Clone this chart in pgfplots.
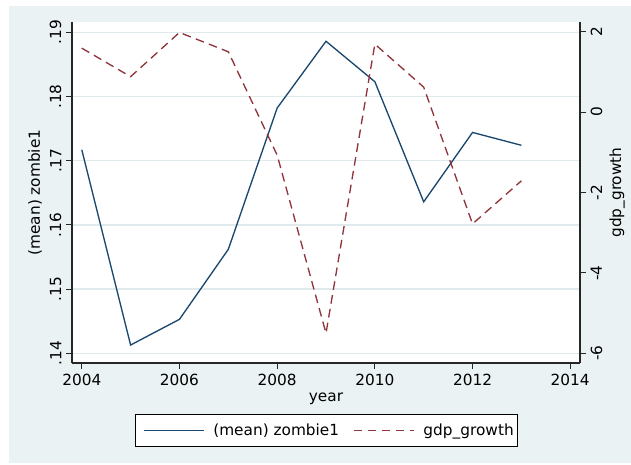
\documentclass[border=0pt]{standalone}
\usepackage{pgfplots}
\pgfplotsset{compat=1.18}
\usepackage{fontspec}
\setmainfont{DejaVu Sans}
\definecolor{bg}{RGB}{234,242,243}
\definecolor{gridc}{RGB}{224,234,237}
\definecolor{snavy}{RGB}{26,71,111}
\definecolor{smaroon}{RGB}{144,53,59}
\begin{document}
\begin{tikzpicture}
\fill[white] (0,0) rectangle (473.25pt,348pt);
\fill[bg] (6.75pt,0.75pt) rectangle (473.25pt,343.5pt);
\begin{axis}[
  at={(54pt,75.75pt)}, anchor=south west,
  scale only axis, width=381pt, height=255.75pt,
  xmin=2003.8, xmax=2014.2, ymin=0.1385, ymax=0.1916,
  axis x line*=bottom, axis y line*=left,
  axis line style={black!85, line width=0.8pt, -},
  tick align=outside, major tick length=4.5pt,
  tick style={black!85, line width=0.8pt},
  xtick={2004,2006,2008,2010,2012,2014},
  xticklabels={2004,2006,2008,2010,2012,2014},
  ytick={0.14,0.15,0.16,0.17,0.18,0.19},
  yticklabels={.14,.15,.16,.17,.18,.19},
  yticklabel style={rotate=90, anchor=south},
  ymajorgrids, grid style={gridc, line width=1.1pt},
  axis background/.style={fill=white},
  font=\fontsize{11.5}{13}\selectfont,
  xlabel={year}, ylabel={(mean) zombie1},
  xlabel style={at={(axis description cs:0.5,-0.104)}, anchor=center},
  ylabel style={at={(axis description cs:-0.0728,0.5)}, anchor=center},
  clip=false,
]
\addplot[snavy, line width=1pt] coordinates {
 (2004,0.1717) (2005,0.1413) (2006,0.1453) (2007,0.1562) (2008,0.1782)
 (2009,0.1886) (2010,0.1823) (2011,0.1636) (2012,0.1744) (2013,0.1724)};
\end{axis}
\begin{axis}[
  at={(54pt,75.75pt)}, anchor=south west,
  scale only axis, width=381pt, height=255.75pt,
  xmin=2003.8, xmax=2014.2, ymin=-6.24, ymax=2.24,
  axis x line=none, axis y line*=right,
  axis line style={black!85, line width=0.8pt, -},
  tick align=outside, major tick length=4.5pt,
  tick style={black!85, line width=0.8pt},
  ytick={-6,-4,-2,0,2},
  yticklabels={-6,-4,-2,0,2},
  yticklabel style={rotate=90, anchor=north},
  font=\fontsize{11.5}{13}\selectfont,
  ylabel={gdp\_growth},
  ylabel style={at={(axis description cs:1.073,0.5)}, anchor=center, rotate=0},
  clip=false,
  legend columns=2,
  legend style={at={(axis description cs:0.5,-0.197)}, anchor=center,
    draw=black, fill=white, line width=0.6pt, font=\fontsize{11.5}{13}\selectfont,
    nodes={inner xsep=0pt, inner ysep=2pt},
    /tikz/every even column/.append style={column sep=7pt},
    inner xsep=2.5pt, inner ysep=5pt},
  legend image code/.code={\draw[#1] (0pt,0pt) -- (45pt,0pt); \path (-3.5pt,0pt) (51.75pt,0pt);},
]
\addlegendimage{snavy, line width=1pt}
\addlegendentry{(mean) zombie1}
\addplot[smaroon, line width=1pt, dash pattern=on 6.5pt off 4pt] coordinates {
 (2004,1.59) (2005,0.88) (2006,1.98) (2007,1.50) (2008,-1.07)
 (2009,-5.50) (2010,1.69) (2011,0.62) (2012,-2.78) (2013,-1.71)};
\addlegendentry{gdp\_growth}
\end{axis}
\end{tikzpicture}
\end{document}
